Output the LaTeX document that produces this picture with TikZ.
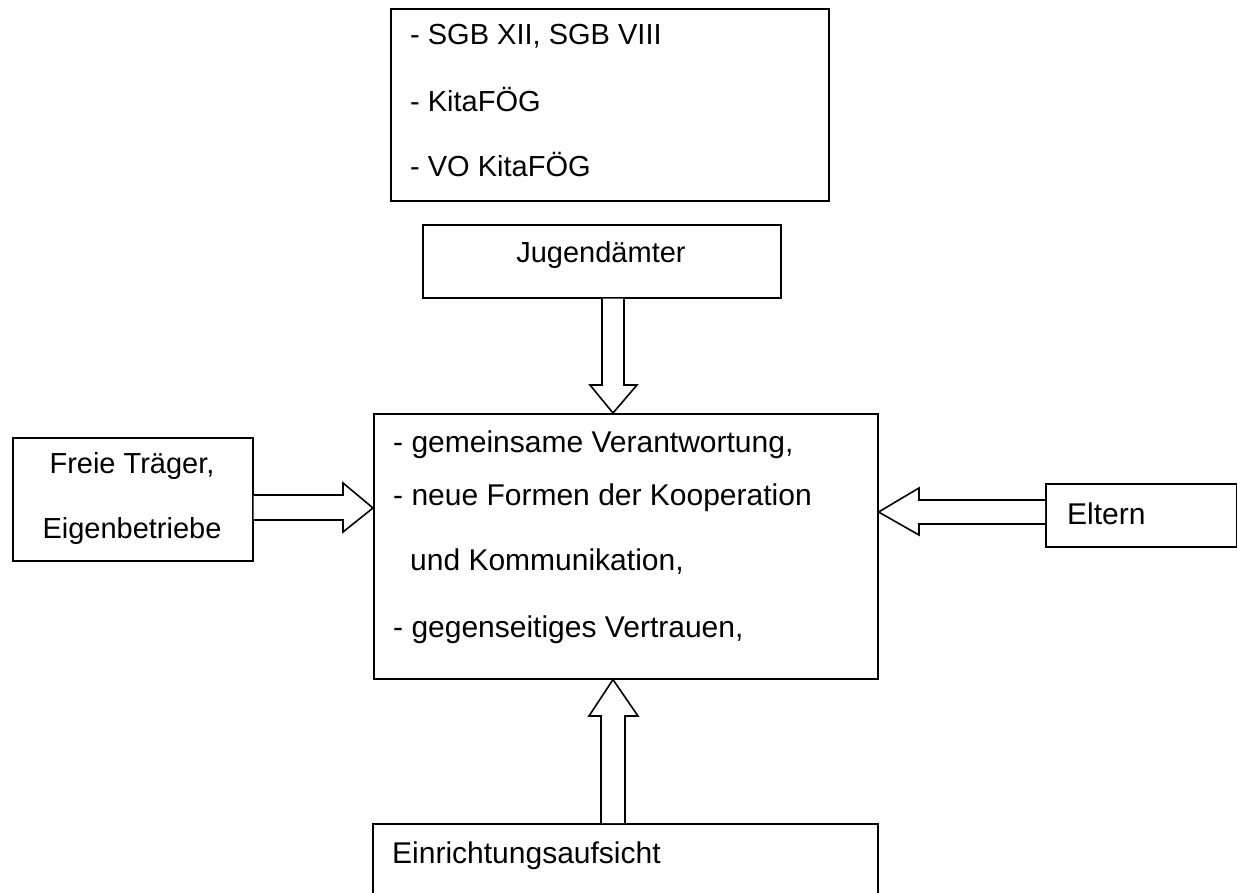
\documentclass[tikz,border=0pt]{standalone}
\usepackage{fontspec}
\setmainfont{Liberation Sans}
\begin{document}
\begin{tikzpicture}[x=1pt,y=-1pt,
  box/.style={draw, line width=1.6pt, inner sep=0pt, anchor=north west},
  txt/.style={inner sep=0pt, anchor=base west, font=\fontsize{29}{34}\selectfont},
  ctxt/.style={inner sep=0pt, anchor=base, font=\fontsize{29}{34}\selectfont},
  mtxt/.style={inner sep=0pt, anchor=base west, font=\fontsize{30}{34}\selectfont},
  barrow/.style={draw, line width=1.6pt, fill=white, line join=miter}]
\useasboundingbox (0,0) rectangle (1237,893);
% boxes
\node[box, minimum width=438pt, minimum height=192pt] (top) at (390,8) {};
\node[box, minimum width=358pt, minimum height=73pt] (jug) at (422,224) {};
\node[box, minimum width=504pt, minimum height=265pt] (main) at (373,413) {};
\node[box, minimum width=240pt, minimum height=123pt] (frei) at (12,437) {};
\node[box, minimum width=191pt, minimum height=63pt] (eltern) at (1045,483) {};
\node[box, minimum width=505pt, minimum height=80pt] (einr) at (372,823) {};
% texts
\node[txt] (t1) at (410,45) {- SGB XII, SGB VIII};
\node[txt] (t2) at (410,112) {- KitaFÖG};
\node[txt] (t3) at (410,177) {- VO KitaFÖG};
\node[ctxt] (tj) at (601,263) {Jugendämter};
\node[mtxt] (m1) at (393,452) {- gemeinsame Verantwortung,};
\node[mtxt] (m2) at (393,505) {- neue Formen der Kooperation};
\node[mtxt] (m3) at (410,570) {und Kommunikation,};
\node[mtxt] (m4) at (393,637) {- gegenseitiges Vertrauen,};
\node[ctxt] (f1) at (132,473) {Freie Träger,};
\node[ctxt] (f2) at (132,538) {Eigenbetriebe};
\node[txt, font=\fontsize{30}{34}\selectfont] (te) at (1067,524) {Eltern};
\node[txt, font=\fontsize{30}{34}\selectfont] (ti) at (392,863) {Einrichtungsaufsicht};
% block arrows
\draw[barrow] (602,0 |- jug.south) -- (602,385) -- (590,385) -- (613,0 |- main.north)
  -- (637,385) -- (624,385) -- (624,0 |- jug.south);
\draw[barrow] (frei.east |- 0,495) -- (343,495) -- (343,483) -- (main.west |- 0,508)
  -- (343,532) -- (343,520) -- (frei.east |- 0,520);
\draw[barrow] (eltern.west |- 0,500) -- (919,500) -- (919,488) -- (main.east |- 0,512)
  -- (919,535) -- (919,524) -- (eltern.west |- 0,524);
\draw[barrow] (601,0 |- einr.north) -- (601,716) -- (589,716) -- (613,0 |- main.south)
  -- (638,716) -- (625,716) -- (625,0 |- einr.north);
\end{tikzpicture}
\end{document}
